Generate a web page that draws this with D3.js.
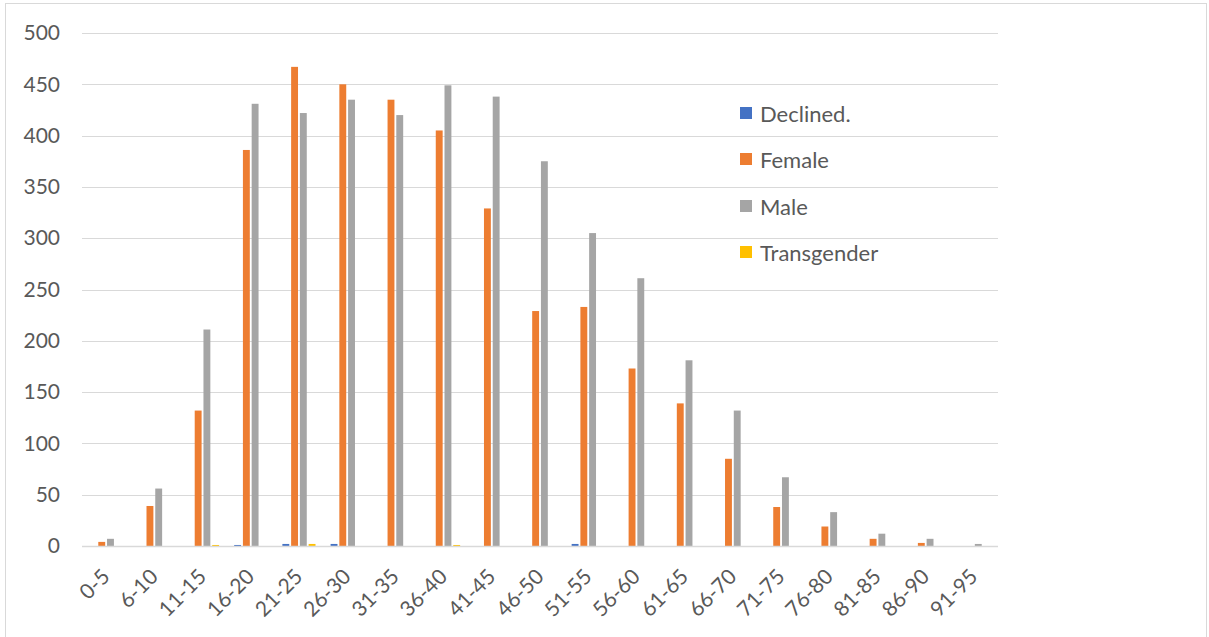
<!DOCTYPE html>
<html>
<head>
<meta charset="utf-8">
<script src="https://cdn.jsdelivr.net/npm/d3@7"></script>
<style>
  html, body { margin: 0; padding: 0; background: #fff; }
  svg { display: block; }
  text { font-family: Lato, "Open Sans", sans-serif; fill: #595959; }
</style>
</head>
<body>
<svg id="chart" width="1209" height="637"></svg>
<script>
const categories = ["0-5","6-10","11-15","16-20","21-25","26-30","31-35","36-40","41-45","46-50","51-55","56-60","61-65","66-70","71-75","76-80","81-85","86-90","91-95"];
const seriesNames = ["Declined.","Female","Male","Transgender"];
const declined    = [0,0,0,1,2,2,0,0,0,0,2,0,0,0,0,0,0,0,0];
const female      = [4,39,132,386,467,450,435,405,329,229,233,173,139,85,38,19,7,3,0];
const male        = [7,56,211,431,422,435,420,449,438,375,305,261,181,132,67,33,12,7,2];
const transgender = [0,0,1,0,2,0,0,1,0,0,0,0,0,0,0,0,0,0,0];
const yTicks = [0,50,100,150,200,250,300,350,400,450,500];
const colors = ["#4472c4","#ed7d31","#a5a5a5","#ffc000"];

const seriesValues = [declined, female, male, transgender];

const svg = d3.select("#chart");

// outer chart border
svg.append("rect").attr("x",5.5).attr("y",3.5).attr("width",1201).attr("height",640)
  .attr("fill","none").attr("stroke","#d9d9d9").attr("stroke-width",1);

const plotL = 82, plotR = 998, plotT = 33, plotB = 546;

const y = d3.scaleLinear().domain([0,500]).range([plotB, plotT]);
const x0 = d3.scaleBand().domain(categories).range([plotL, plotR])
  .paddingInner(2.19/7).paddingOuter(2.19/14);
const x1 = d3.scaleBand().domain(seriesNames).range([0, x0.bandwidth()])
  .paddingInner(0.27/1.27).paddingOuter(0);

// gridlines
svg.append("g").selectAll("line").data(yTicks).join("line")
  .attr("x1", plotL).attr("x2", plotR)
  .attr("y1", d => Math.round(y(d)) + 0.5).attr("y2", d => Math.round(y(d)) + 0.5)
  .attr("stroke", "#d9d9d9").attr("stroke-width", 1);

// y axis labels
const yAxis = d3.axisLeft(y).tickValues(yTicks).tickSize(0).tickPadding(0);
const gy = svg.append("g").attr("transform", "translate(60,0)").call(yAxis);
gy.select(".domain").remove();
gy.selectAll("text").style("font-size","21px").style("font-family","Lato, sans-serif").attr("fill","#595959");

// bars
const data = categories.map((c,i) => ({cat:c, vals: seriesNames.map((s,j)=>({s, j, v: seriesValues[j][i]}))}));
const groups = svg.append("g").selectAll("g").data(data).join("g")
  .attr("transform", d => `translate(${x0(d.cat)},0)`);
groups.selectAll("rect").data(d => d.vals).join("rect")
  .attr("x", d => x1(d.s))
  .attr("width", x1.bandwidth())
  .attr("y", d => y(d.v))
  .attr("height", d => y(0) - y(d.v))
  .attr("fill", d => colors[d.j]);

// x axis line
svg.append("line").attr("x1", plotL).attr("x2", plotR)
  .attr("y1", plotB + 0.5).attr("y2", plotB + 0.5)
  .attr("stroke", "#d9d9d9").attr("stroke-width", 1.5);

// x axis labels
const xAxis = d3.axisBottom(x0).tickSize(0).tickPadding(0);
const gx = svg.append("g").attr("transform", `translate(0,${plotB})`).call(xAxis);
gx.select(".domain").remove();
gx.selectAll("text")
  .style("font-size","21px").style("font-family","Lato, sans-serif").attr("fill","#595959")
  .attr("text-anchor","end")
  .attr("dy", null).attr("y", 0)
  .attr("transform", "translate(5,32) rotate(-45)");

// legend
const legendY = [113, 159, 206, 252];
const lg = svg.append("g").selectAll("g").data(seriesNames).join("g")
  .attr("transform", (d,i) => `translate(740,${legendY[i]})`);
lg.append("rect").attr("x",0).attr("y",-6).attr("width",12).attr("height",12)
  .attr("fill", (d,i) => colors[i]);
lg.append("text").attr("x",20).attr("y",0).attr("dominant-baseline","central")
  .style("font-size","22px").text(d => d);
</script>
</body>
</html>
